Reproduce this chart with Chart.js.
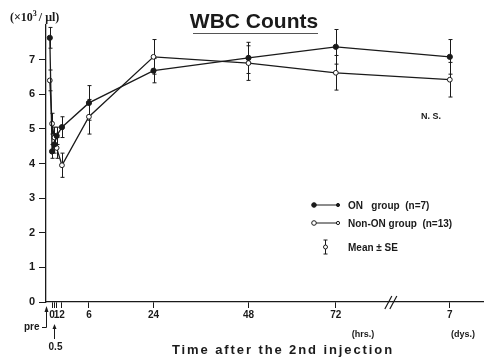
<!DOCTYPE html>
<html>
<head>
<meta charset="utf-8">
<script src="https://cdn.jsdelivr.net/npm/chart.js@4.4.1/dist/chart.umd.min.js"></script>
<style>
  html, body { margin: 0; padding: 0; background: #fff; }
  #wrap { width: 484px; height: 357px; position: relative; }
</style>
</head>
<body>
<div id="wrap"><canvas id="chart"></canvas></div>
<script>
  // sampling times (hours after the 2nd injection; pre = -1, 7 days = 168)
  const hours = [-1, 0, 0.5, 1, 2, 6, 24, 48, 72, 168];

  // WBC counts (x10^3 / ul), mean and SE
  const onMean = [7.63, 4.35, 4.55, 4.8, 5.05, 5.75, 6.68, 7.05, 7.37, 7.08];
  const onSE = [0.3, 0.2, 0.25, 0.25, 0.3, 0.5, 0.35, 0.45, 0.5, 0.5];
  const nonMean = [6.4, 5.15, 4.75, 4.45, 3.95, 5.35, 7.08, 6.9, 6.62, 6.42];
  const nonSE = [0.3, 0.3, 0.3, 0.3, 0.35, 0.5, 0.5, 0.5, 0.5, 0.5];

  // the time axis is hand stretched: hours -> axis units
  const axisHours = [-1, 0, 0.5, 1, 2, 6, 24, 48, 72, 168];
  const axisUnits = [-0.3, 0.3, 0.9, 1.5, 2.9, 10, 27, 52, 75, 105];
  const xTickHours = [0, 0.5, 1, 2, 6, 24, 48, 72, 168];
  const xTickLabels = ['0', '', '1', '2', '6', '24', '48', '72', '7'];
  const yTicks = [0, 1, 2, 3, 4, 5, 6, 7];
  const breakUnit = 90;

  function xMap(h) {
    for (let i = 0; i < axisHours.length - 1; i++) {
      const h0 = axisHours[i], h1 = axisHours[i + 1];
      if (h >= h0 && h <= h1) {
        return axisUnits[i] + (h - h0) / (h1 - h0) * (axisUnits[i + 1] - axisUnits[i]);
      }
    }
    return axisUnits[axisUnits.length - 1];
  }

  const INK = '#1a1a1a';
  const SANS = '"Liberation Sans", Arial, sans-serif';

  function pts(means) {
    return hours.map((h, i) => ({ x: xMap(h), y: means[i] }));
  }

  // let the time axis run to the right edge of the canvas
  const fullWidth = {
    id: 'fullWidth',
    afterLayout(chart) {
      const x = chart.scales.x;
      x.right = chart.width;
      x.width = x.right - x.left;
      chart.chartArea.right = chart.width;
      chart.chartArea.width = chart.chartArea.right - chart.chartArea.left;
      x.configure();
    }
  };

  // error bars drawn through the chart scales
  const errorBars = {
    id: 'errorBars',
    beforeDatasetsDraw(chart) {
      const { ctx, scales: { x, y } } = chart;
      ctx.save();
      ctx.strokeStyle = INK;
      ctx.lineWidth = 1;
      [[onMean, onSE], [nonMean, nonSE]].forEach(([m, se]) => {
        hours.forEach((h, i) => {
          const px = Math.round(x.getPixelForValue(xMap(h))) + 0.5;
          const top = y.getPixelForValue(m[i] + se[i]);
          const bot = y.getPixelForValue(m[i] - se[i]);
          ctx.beginPath();
          ctx.moveTo(px, top); ctx.lineTo(px, bot);
          ctx.moveTo(px - 2, top); ctx.lineTo(px + 2, top);
          ctx.moveTo(px - 2, bot); ctx.lineTo(px + 2, bot);
          ctx.stroke();
        });
      });
      ctx.restore();
    }
  };

  // title, unit label, legend, axis annotations
  const overlay = {
    id: 'overlay',
    afterDraw(chart) {
      const { ctx, scales: { x, y } } = chart;
      ctx.save();
      ctx.fillStyle = INK;
      ctx.strokeStyle = INK;

      // title
      ctx.font = 'bold 21px ' + SANS;
      ctx.textAlign = 'center';
      ctx.textBaseline = 'middle';
      ctx.fillText('WBC Counts', 254, 22);
      ctx.strokeStyle = '#555';
      ctx.lineWidth = 1;
      ctx.beginPath(); ctx.moveTo(193, 33.5); ctx.lineTo(318, 33.5); ctx.stroke();
      ctx.strokeStyle = INK;

      // unit label (x10^3 / ul)
      ctx.textAlign = 'left';
      ctx.font = 'bold 12px "Liberation Serif", serif';
      let ux = 10;
      ctx.fillText('(\u00d710', ux, 18); ux += ctx.measureText('(\u00d710').width;
      ctx.font = 'bold 8px "Liberation Serif", serif';
      ctx.fillText('3', ux, 14); ux += ctx.measureText('3').width + 2;
      ctx.font = 'bold 12px "Liberation Serif", serif';
      ctx.fillText('/ \u03bcl)', ux, 18);

      // N.S.
      ctx.font = 'bold 9px ' + SANS;
      ctx.fillText('N. S.', 421, 117);

      // legend
      ctx.font = 'bold 10px ' + SANS;
      ctx.lineWidth = 1;
      const lx0 = 314, lx1 = 338, tx = 348;
      [[205, true, 'ON   group  (n=7)'], [223, false, 'Non-ON group  (n=13)']].forEach(([ly, filled, txt]) => {
        ctx.beginPath(); ctx.moveTo(lx0, ly); ctx.lineTo(lx1, ly); ctx.stroke();
        [lx0, lx1].forEach((cx, k) => {
          ctx.beginPath();
          ctx.arc(cx, ly, k === 0 ? 2.3 : 1.6, 0, Math.PI * 2);
          ctx.fillStyle = filled ? INK : '#fff';
          ctx.fill(); ctx.stroke();
        });
        ctx.fillStyle = INK;
        ctx.fillText(txt, tx, ly + 1);
      });
      // mean +- SE symbol
      ctx.beginPath();
      ctx.moveTo(325.5, 240); ctx.lineTo(325.5, 254);
      ctx.moveTo(323.5, 240); ctx.lineTo(327.5, 240);
      ctx.moveTo(323.5, 254); ctx.lineTo(327.5, 254);
      ctx.stroke();
      ctx.beginPath(); ctx.arc(325.5, 247, 2, 0, Math.PI * 2);
      ctx.fillStyle = '#fff'; ctx.fill(); ctx.stroke();
      ctx.fillStyle = INK;
      ctx.fillText('Mean \u00b1 SE', tx, 248);

      // axis break //
      const bx = x.getPixelForValue(breakUnit);
      const by = y.getPixelForValue(0);
      ctx.lineWidth = 1.2;
      ctx.beginPath();
      ctx.moveTo(bx - 8, by + 7); ctx.lineTo(bx - 1, by - 6);
      ctx.moveTo(bx - 3, by + 7); ctx.lineTo(bx + 4, by - 6);
      ctx.stroke();

      // units under the time ticks
      ctx.font = 'bold 9px ' + SANS;
      ctx.textAlign = 'center';
      ctx.fillText('(hrs.)', 363, 335);
      ctx.fillText('(dys.)', 463, 335);

      // pre marker
      const ax = x.left;
      ctx.font = 'bold 10px ' + SANS;
      ctx.textAlign = 'left';
      ctx.fillText('pre', 24, 327);
      ctx.lineWidth = 1;
      ctx.beginPath();
      ctx.moveTo(42, 327.5); ctx.lineTo(ax + 0.5, 327.5); ctx.lineTo(ax + 0.5, 311);
      ctx.stroke();
      ctx.beginPath();
      ctx.moveTo(ax - 1.5, 312); ctx.lineTo(ax + 2.5, 312); ctx.lineTo(ax + 0.5, 306);
      ctx.closePath(); ctx.fill();

      // 0.5 marker
      const hx = Math.round(x.getPixelForValue(xMap(0.5))) + 0.5;
      ctx.textAlign = 'center';
      ctx.fillText('0.5', hx + 1, 347);
      ctx.beginPath(); ctx.moveTo(hx, 339); ctx.lineTo(hx, 328); ctx.stroke();
      ctx.beginPath();
      ctx.moveTo(hx - 2, 329); ctx.lineTo(hx + 2, 329); ctx.lineTo(hx, 324);
      ctx.closePath(); ctx.fill();

      // time axis title
      ctx.font = 'bold 13px ' + SANS;
      const label = 'Time after the 2nd injection';
      const plain = ctx.measureText(label).width;
      ctx.letterSpacing = ((220 - plain) / (label.length - 1)).toFixed(2) + 'px';
      ctx.textAlign = 'left';
      ctx.fillText(label, 172, 350);
      ctx.restore();
    }
  };

  new Chart(document.getElementById('chart'), {
    type: 'line',
    data: {
      datasets: [
        {
          label: 'ON group (n=7)',
          data: pts(onMean),
          borderColor: INK,
          borderWidth: 1.3,
          pointRadius: 2.6,
          pointBackgroundColor: INK,
          pointBorderColor: INK,
          pointBorderWidth: 1,
          tension: 0
        },
        {
          label: 'Non-ON group (n=13)',
          data: pts(nonMean),
          borderColor: INK,
          borderWidth: 1.3,
          pointRadius: 2.4,
          pointBackgroundColor: '#fff',
          pointBorderColor: INK,
          pointBorderWidth: 1,
          tension: 0
        }
      ]
    },
    options: {
      responsive: true,
      maintainAspectRatio: false,
      animation: false,
      layout: { padding: { top: 25, right: 0, left: 0, bottom: 0 } },
      plugins: { legend: { display: false }, tooltip: { enabled: false } },
      scales: {
        x: {
          type: 'linear',
          min: -1.3,
          max: 114,
          afterFit(scale) { scale.height = 55; },
          afterBuildTicks(scale) {
            scale.ticks = xTickHours.map(h => ({ value: xMap(h) }));
          },
          grid: { drawOnChartArea: false, tickLength: 6, color: INK, lineWidth: 1 },
          border: { display: true, color: INK, width: 1.3 },
          ticks: {
            autoSkip: false,
            maxRotation: 0,
            padding: 1,
            color: INK,
            font: { family: SANS, size: 10, weight: 'bold' },
            callback: (v, i) => xTickLabels[i]
          }
        },
        y: {
          min: 0,
          max: 8,
          afterFit(scale) { scale.width = 46; },
          afterBuildTicks(scale) {
            scale.ticks = yTicks.map(v => ({ value: v }));
          },
          grid: { drawOnChartArea: false, tickLength: 7, color: INK, lineWidth: 1 },
          border: { display: true, color: INK, width: 1.3 },
          ticks: {
            padding: 4,
            color: INK,
            font: { family: SANS, size: 11, weight: 'bold' }
          }
        }
      }
    },
    plugins: [fullWidth, errorBars, overlay]
  });
</script>
</body>
</html>
